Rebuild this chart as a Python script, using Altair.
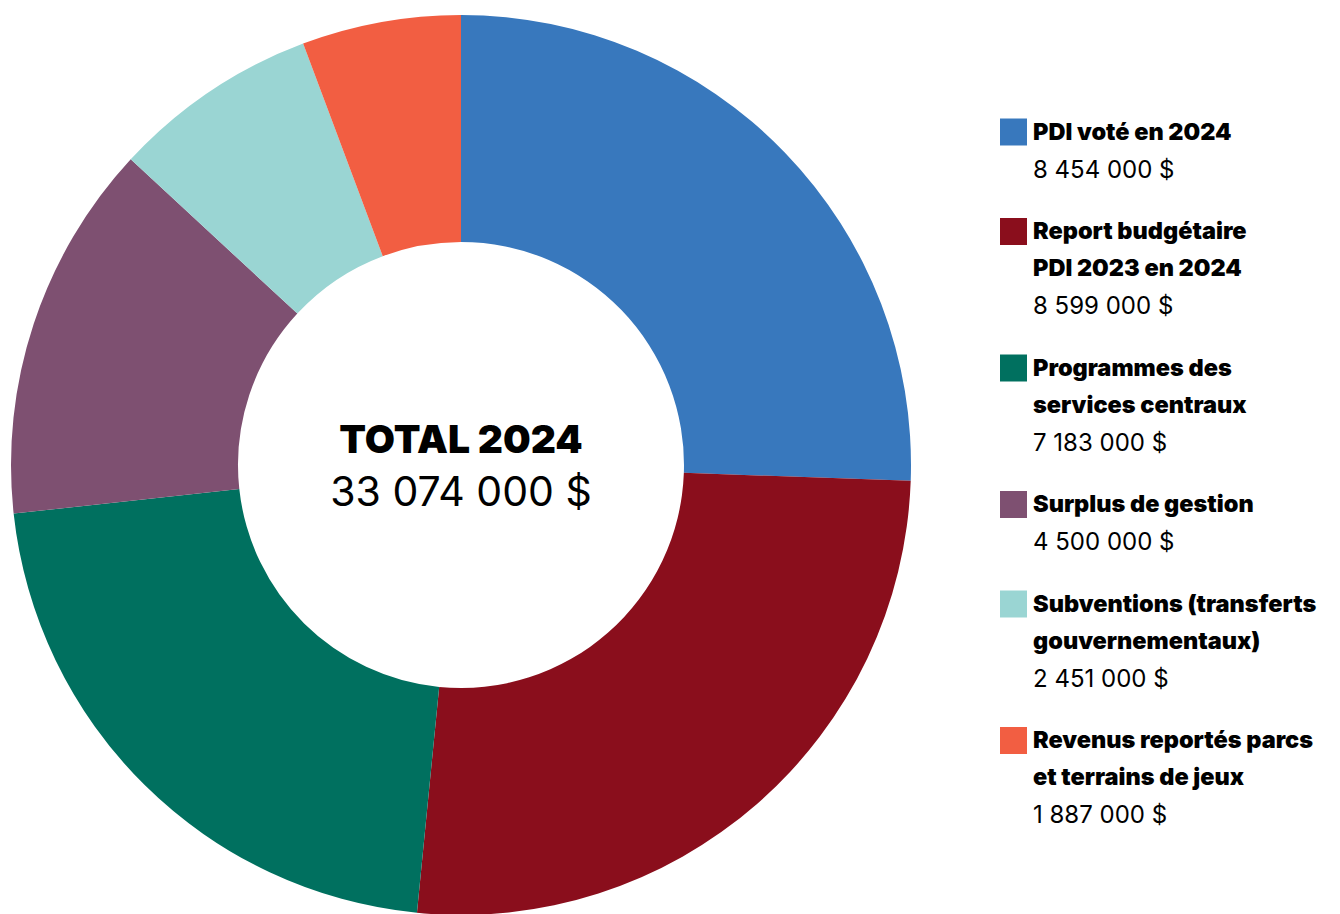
import altair as alt
import pandas as pd

categories = [
    "PDI voté en 2024",
    "Report budgétaire PDI 2023 en 2024",
    "Programmes des services centraux",
    "Surplus de gestion",
    "Subventions (transferts gouvernementaux)",
    "Revenus reportés parcs et terrains de jeux",
]
title_lines = [
    ["PDI voté en 2024"],
    ["Report budgétaire", "PDI 2023 en 2024"],
    ["Programmes des", "services centraux"],
    ["Surplus de gestion"],
    ["Subventions (transferts", "gouvernementaux)"],
    ["Revenus reportés parcs", "et terrains de jeux"],
]
values = [8454000, 8599000, 7183000, 4500000, 2451000, 1887000]
amount_labels = ["8 454 000 $", "8 599 000 $", "7 183 000 $", "4 500 000 $", "2 451 000 $", "1 887 000 $"]
colors = ["#3878BD", "#8A0E1C", "#00705F", "#7E5071", "#9AD5D3", "#F25E42"]
total_title = "TOTAL 2024"
total_label = "33 074 000 $"

W, H = 1324, 906
CX, CY = 453, 457

pie_df = pd.DataFrame({"cat": categories, "value": values, "order": list(range(len(values)))})

# legend layout built from the arrays
rows_title, rows_amount, rows_sq = [], [], []
y = 124.5
for i, (lines, amt) in enumerate(zip(title_lines, amount_labels)):
    rows_sq.append({"cat": categories[i], "y": y - 0.5})
    for ln in lines:
        rows_title.append({"t": ln, "y": y})
        y += 37
    rows_amount.append({"t": amt, "y": y + 1})
    y += 62.5

sq_df = pd.DataFrame(rows_sq)
tt_df = pd.DataFrame(rows_title)
am_df = pd.DataFrame(rows_amount)

color_scale = alt.Scale(domain=categories, range=colors)

pie = alt.Chart(pie_df).mark_arc(outerRadius=450, innerRadius=223).encode(
    theta=alt.Theta("value:Q", stack=True),
    order=alt.Order("order:Q"),
    color=alt.Color("cat:N", scale=color_scale, legend=None),
    x=alt.value(CX),
    y=alt.value(CY),
)

squares = alt.Chart(sq_df).mark_square(size=27 * 27, opacity=1).encode(
    x=alt.value(1005.5),
    y=alt.Y("y:Q", scale=None),
    color=alt.Color("cat:N", scale=color_scale, legend=None),
)

titles = alt.Chart(tt_df).mark_text(
    align="left", baseline="middle", font="Inter", fontWeight=900, fontSize=23.5, color="#000000"
).encode(x=alt.value(1025), y=alt.Y("y:Q", scale=None), text="t:N")

amounts = alt.Chart(am_df).mark_text(
    align="left", baseline="middle", font="Inter", fontWeight=400, fontSize=24, color="#000000"
).encode(x=alt.value(1025), y=alt.Y("y:Q", scale=None), text="t:N")

center_df = pd.DataFrame({"t": [total_title, total_label], "y": [CY - 24, CY + 29]})
center_bold = alt.Chart(center_df.iloc[[0]]).mark_text(
    align="center", baseline="middle", font="Inter", fontWeight=900, fontSize=39, color="#000000"
).encode(x=alt.value(CX), y=alt.Y("y:Q", scale=None), text="t:N")
center_reg = alt.Chart(center_df.iloc[[1]]).mark_text(
    align="center", baseline="middle", font="Inter", fontWeight=400, fontSize=41, color="#000000"
).encode(x=alt.value(CX), y=alt.Y("y:Q", scale=None), text="t:N")

chart = alt.layer(
    pie, squares, titles, amounts, center_bold, center_reg
).properties(width=W, height=H, padding=0, autosize=alt.AutoSizeParams(type="none")).configure_view(stroke=None)

chart.save("out.html", embed_options={"renderer": "svg", "actions": False})
